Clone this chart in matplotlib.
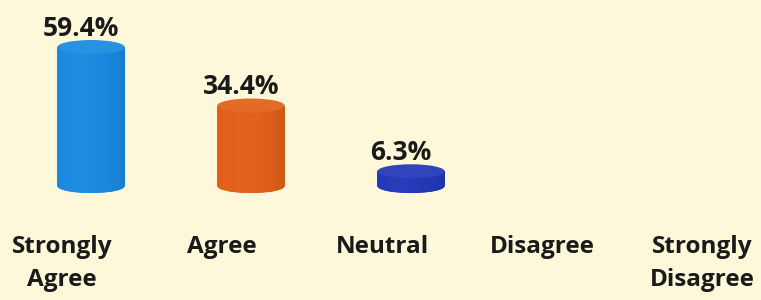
import matplotlib.pyplot as plt
from matplotlib.patches import Ellipse, Rectangle
import matplotlib.colors as mcolors
import numpy as np

categories = ['Strongly\nAgree', 'Agree', 'Neutral', 'Disagree', 'Strongly\nDisagree']
values = [59.4, 34.4, 6.3, 0.0, 0.0]
value_labels = ['59.4%', '34.4%', '6.3%', '', '']
colors = ['#1b8ae0', '#e2601a', '#2438b8', '#1b8ae0', '#1b8ae0']

BG = '#fdf8d9'
BAR_W = 0.42
ELL_H = 6.0

plt.rcParams['font.family'] = ['Open Sans', 'DejaVu Sans']

fig = plt.figure(figsize=(7.61, 3.0), dpi=100)
fig.patch.set_facecolor(BG)
ax = fig.add_axes([0, 0, 1, 1])
ax.set_facecolor(BG)
ax.set_xlim(-0.569, 4.1875)
ax.set_ylim(-48.7, 79.5)
ax.axis('off')


def shade(c, f):
    r, g, b = mcolors.to_rgb(c)
    if f >= 1:
        return (r + (1 - r) * (f - 1), g + (1 - g) * (f - 1), b + (1 - b) * (f - 1))
    return (r * f, g * f, b * f)


for i, (v, c) in enumerate(zip(values, colors)):
    if v <= 0:
        continue
    x0 = i - BAR_W / 2
    # body with a light horizontal gradient, clipped to the cylinder outline
    body = Rectangle((x0, 0), BAR_W, v, facecolor='none', edgecolor='none')
    bottom = Ellipse((i, 0), BAR_W, ELL_H, facecolor=c, edgecolor='none', zorder=2)
    ax.add_patch(bottom)
    ax.add_patch(body)
    t = np.linspace(0, 1, 64)
    prof = 1.02 - 0.25 * (t - 0.35) ** 2
    grad = np.array([shade(c, p) for p in prof])[None, :, :]
    im = ax.imshow(grad, extent=(x0, x0 + BAR_W, 0, v), aspect='auto', zorder=3,
                   interpolation='bilinear')
    im.set_clip_path(body)
    im2 = ax.imshow(grad, extent=(x0, x0 + BAR_W, -ELL_H / 2, 0), aspect='auto', zorder=3,
                    interpolation='bilinear')
    im2.set_clip_path(bottom)
    top = Ellipse((i, v), BAR_W, ELL_H, facecolor=shade(c, 1.06), edgecolor='none', zorder=4)
    ax.add_patch(top)
    ax.text(i - 0.062, v + ELL_H / 2 - 0.8, value_labels[i], ha='center', va='bottom',
            fontsize=19, fontweight='bold', color='#1a1a1a')

for i, lab in enumerate(categories):
    ax.text(i - 0.18, -20.8, lab, ha='center', va='top', fontsize=17.5,
            fontweight='bold', color='#1a1a1a', linespacing=1.5)

fig.savefig('out.png', dpi=100, facecolor=BG)
